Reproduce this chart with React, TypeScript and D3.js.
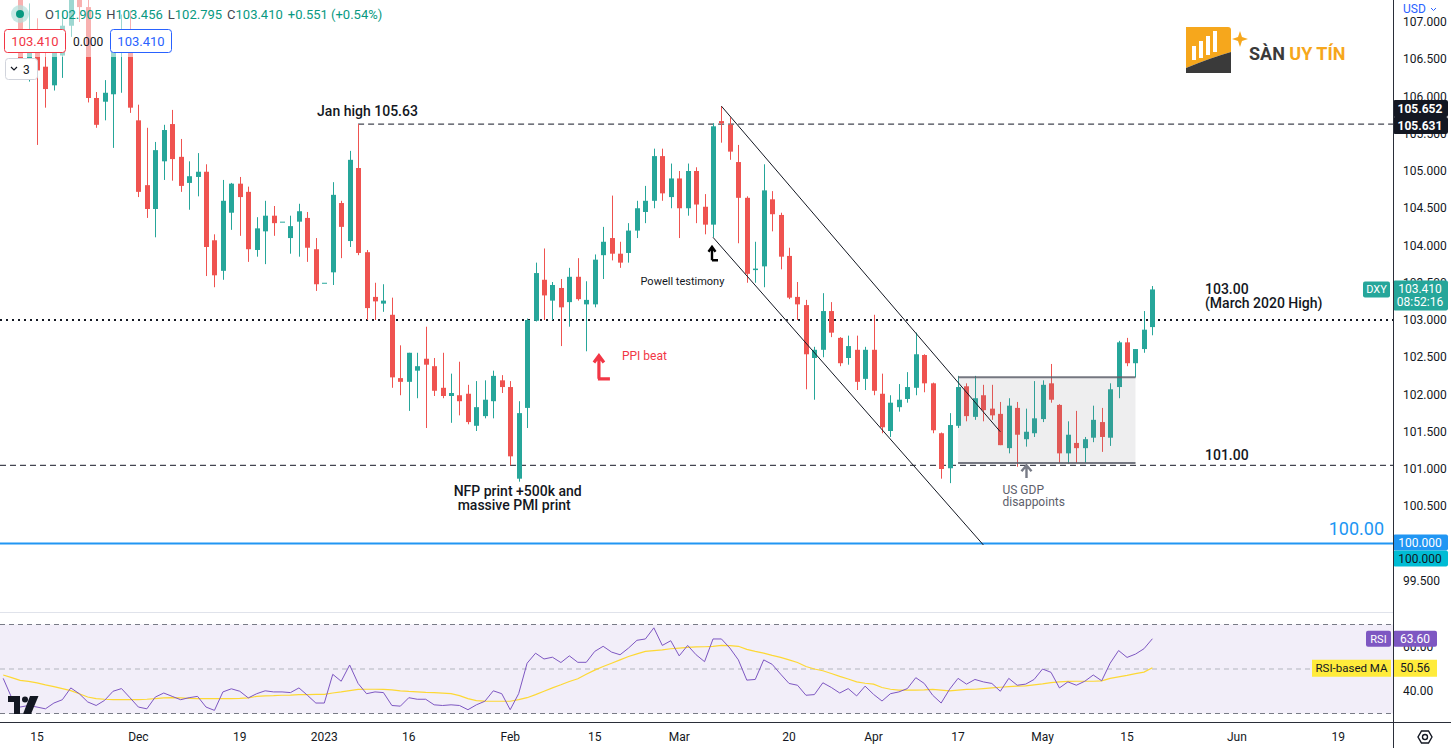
import React, { useEffect } from "react";
import * as d3 from "d3";

// ---- DATA (daily DXY, Nov 9 2022 .. May 18 2023, weekdays) ----
const opens = [109.6, 110.4, 108.2, 106.45, 106.9, 106.4, 106.15, 106.55, 106.95, 107.75,
  107.2, 105.98, 105.93, 106.03, 106.6, 106.85, 105.68, 104.81, 104.49, 105.13,
  105.63, 105.19, 104.84, 104.92, 104.99, 104.07, 103.66, 104.44, 104.83, 104.72,
  103.94, 104.19, 104.40, 104.32, 104.10, 104.32, 104.37, 103.95, 103.50, 103.64,
  104.57, 104.06, 105.04, 103.91, 103.31, 103.22, 103.07, 102.22, 102.17, 102.32,
  102.48, 102.38, 102.09, 101.98, 101.99, 102.01, 101.58, 101.71, 101.91, 102.19,
  102.10, 100.87, 101.82, 102.99, 103.54, 103.26, 103.43, 103.24, 103.58, 103.21,
  103.21, 103.87, 104.10, 103.89, 103.90, 104.20, 104.45, 104.60, 105.20, 104.65,
  104.90, 104.50, 105.00, 104.52, 104.28, 105.67, 105.62, 105.12, 104.64, 103.67,
  103.72, 104.62, 104.41, 103.86, 103.31, 103.20, 102.49, 102.60, 103.12, 102.76,
  102.49, 102.60, 102.21, 102.60, 102.01, 101.51, 101.83, 101.94, 102.09, 102.53,
  102.15, 101.48, 101.01, 101.58, 102.11, 101.70, 101.99, 101.81, 101.74, 101.28,
  101.82, 101.40, 101.48, 101.67, 102.15, 101.86, 101.21, 101.35, 101.28, 101.42,
  101.63, 101.42, 102.10, 102.70, 102.42, 102.61, 102.905];

const highs = [110.5, 110.6, 108.3, 107.25, 107.05, 106.6, 106.8, 107.15, 107.95, 107.85,
  107.35, 106.06, 106.22, 106.85, 107.1, 107.15, 105.89, 105.58, 105.39, 105.62,
  105.82, 105.43, 105.13, 105.24, 105.09, 104.15, 104.88, 104.84, 104.92, 104.79,
  104.38, 104.60, 104.53, 104.32, 104.40, 104.56, 104.45, 104.10, 103.50, 104.85,
  104.60, 105.27, 105.63, 103.94, 103.50, 103.48, 103.30, 102.66, 102.56, 102.56,
  102.91, 102.49, 102.56, 102.28, 102.44, 102.13, 102.18, 102.19, 102.32, 102.26,
  102.18, 101.91, 103.02, 103.77, 103.96, 103.51, 103.55, 103.70, 103.83, 103.52,
  103.88, 104.25, 104.67, 104.05, 104.30, 104.60, 104.80, 105.30, 105.30, 105.10,
  105.00, 105.10, 105.05, 104.69, 105.64, 105.87, 105.72, 105.35, 104.66, 104.05,
  105.09, 104.73, 104.44, 103.97, 103.51, 103.27, 102.64, 103.36, 103.24, 102.77,
  102.79, 102.79, 102.64, 103.07, 102.28, 101.99, 102.14, 102.30, 102.83, 102.54,
  102.16, 101.49, 101.75, 102.25, 102.15, 102.25, 102.13, 102.13, 101.90, 101.95,
  101.90, 101.81, 102.18, 102.19, 102.41, 101.87, 101.64, 101.78, 101.43, 101.85,
  101.82, 102.15, 102.72, 102.76, 102.61, 103.12, 103.456];

const lows = [109.4, 107.9, 106.3, 106.2, 105.35, 105.85, 106.08, 106.25, 106.8, 107.0,
  105.92, 105.58, 105.68, 105.31, 106.05, 105.78, 104.65, 104.37, 104.11, 104.88,
  104.87, 104.72, 104.48, 104.66, 103.59, 103.44, 103.54, 104.21, 104.13, 103.78,
  103.85, 103.75, 104.13, 104.32, 103.89, 103.85, 103.78, 103.39, 103.50, 103.47,
  103.83, 103.98, 103.87, 103.00, 103.00, 103.11, 102.09, 101.99, 101.78, 101.95,
  101.55, 101.98, 101.95, 101.62, 101.72, 101.60, 101.51, 101.68, 101.68, 102.02,
  101.05, 100.83, 101.55, 102.98, 103.00, 103.00, 102.65, 102.91, 103.26, 102.58,
  103.17, 103.55, 103.80, 103.70, 103.77, 104.10, 104.30, 104.50, 104.60, 104.50,
  104.10, 104.40, 104.30, 104.15, 104.11, 105.38, 105.15, 104.03, 103.50, 103.50,
  103.44, 104.19, 103.68, 103.28, 103.00, 102.07, 101.93, 102.50, 102.77, 102.38,
  102.40, 102.06, 102.06, 101.99, 101.48, 101.43, 101.77, 101.89, 101.99, 102.03,
  101.48, 100.87, 100.81, 101.55, 101.64, 101.66, 101.64, 101.66, 101.32, 101.21,
  101.03, 101.30, 101.43, 101.63, 101.89, 101.08, 101.07, 101.08, 101.08, 101.36,
  101.23, 101.31, 101.95, 102.38, 102.23, 102.56, 102.795];

const closes = [110.4, 108.1, 106.45, 106.85, 106.35, 106.1, 106.6, 106.95, 107.75, 107.2,
  105.98, 105.62, 106.05, 106.65, 106.85, 105.85, 104.72, 104.49, 105.28, 105.55,
  105.16, 104.80, 104.93, 104.99, 103.98, 103.60, 104.60, 104.83, 104.65, 103.95,
  104.23, 104.40, 104.30, 104.32, 104.26, 104.46, 103.97, 103.48, 103.50, 104.68,
  104.25, 105.15, 103.90, 103.16, 103.25, 103.26, 102.23, 102.17, 102.56, 102.38,
  102.40, 102.05, 101.98, 102.02, 101.91, 101.63, 101.83, 101.93, 102.25, 102.10,
  101.17, 101.75, 103.00, 103.63, 103.33, 103.47, 103.17, 103.58, 103.28, 103.27,
  103.81, 104.05, 103.89, 103.77, 104.20, 104.50, 104.60, 105.20, 104.70, 104.90,
  104.50, 105.00, 104.55, 104.28, 105.60, 105.64, 105.26, 104.64, 103.62, 103.69,
  104.74, 104.42, 103.85, 103.30, 103.21, 102.54, 102.60, 103.12, 102.83, 102.42,
  102.65, 102.17, 102.60, 102.05, 101.56, 101.89, 101.93, 102.10, 102.54, 102.15,
  101.52, 101.00, 101.59, 102.10, 101.71, 101.95, 101.79, 101.72, 101.32, 101.85,
  101.46, 101.50, 101.68, 102.13, 101.93, 101.21, 101.46, 101.28, 101.40, 101.66,
  101.43, 102.07, 102.70, 102.42, 102.61, 102.87, 103.41];

const rsiValues = [45.8, 37.1, 32.9, 33.6, 32.9, 32.1, 34.7, 36.2, 41.5, 38.9,
  35.2, 33.6, 35.9, 40.0, 41.2, 37.1, 32.9, 32.1, 37.4, 39.2,
  37.7, 36.2, 37.1, 37.7, 32.9, 31.4, 39.7, 41.1, 40.0, 37.0,
  38.9, 40.2, 39.7, 39.7, 39.4, 41.5, 38.2, 34.7, 34.7, 47.6,
  44.5, 51.8, 43.5, 38.9, 39.7, 39.4, 33.6, 33.3, 37.1, 36.4,
  36.4, 33.9, 33.6, 33.9, 33.6, 31.7, 33.9, 35.5, 40.2, 38.9,
  31.7, 38.9, 52.6, 57.1, 54.5, 55.3, 52.9, 55.9, 53.0, 53.0,
  57.9, 60.2, 57.6, 56.4, 59.4, 62.9, 63.5, 68.5, 60.6, 62.7,
  55.9, 60.6, 56.4, 53.3, 63.5, 63.5, 59.4, 54.1, 45.0, 45.3,
  54.1, 52.1, 47.7, 43.5, 42.7, 38.2, 38.5, 43.8, 41.7, 39.2,
  41.2, 37.9, 42.3, 38.6, 35.6, 38.9, 39.7, 41.2, 46.1, 43.5,
  38.2, 34.7, 40.9, 45.8, 43.2, 45.3, 44.2, 43.5, 40.0, 45.8,
  42.7, 43.2, 45.3, 50.0, 48.5, 41.5, 44.2, 42.7, 44.5, 47.3,
  44.7, 52.6, 58.3, 55.2, 56.7, 59.1, 63.6];

const rsiMA = [47.3, 46.1, 44.9, 44.4, 43.8, 42.9, 42.1, 41.2, 40.3, 38.9,
  37.4, 36.7, 36.4, 36.2, 36.2, 36.2, 36.2, 36.4, 36.7, 37.0,
  37.1, 37.0, 36.8, 36.7, 36.7, 36.7, 36.7, 36.7, 36.8, 37.0,
  37.7, 37.9, 38.0, 38.2, 38.3, 38.5, 38.5, 38.6, 38.6, 39.2,
  39.7, 40.3, 40.8, 40.9, 40.9, 40.8, 40.6, 40.2, 39.9, 39.7,
  39.5, 39.4, 39.2, 38.9, 38.0, 36.7, 35.8, 35.6, 35.5, 35.5,
  35.5, 36.2, 37.1, 38.5, 40.0, 41.5, 42.9, 44.4, 45.6, 47.6,
  49.5, 51.1, 52.6, 54.1, 55.6, 56.8, 57.9, 58.3, 58.6, 59.1,
  59.4, 59.7, 59.9, 60.0, 60.2, 60.6, 60.5, 60.2, 58.8, 57.9,
  57.1, 56.1, 55.2, 54.1, 52.9, 51.1, 50.0, 49.2, 48.0, 46.7,
  45.5, 44.2, 43.6, 43.2, 41.7, 40.9, 40.5, 40.5, 40.5, 40.6,
  40.8, 40.5, 40.2, 40.5, 40.8, 40.9, 41.2, 41.5, 41.8, 42.1,
  42.3, 42.4, 42.9, 43.3, 43.9, 44.2, 44.4, 44.5, 44.5, 44.5,
  44.7, 45.8, 46.5, 47.1, 47.9, 48.6, 50.56];

const tickLabels = ["15", "Dec", "19", "2023", "16", "Feb", "15", "Mar", "20", "Apr", "17", "May", "15", "Jun", "19"];
const tickDates = ["2022-11-15", "2022-12-01", "2022-12-19", "2023-01-02", "2023-01-16", "2023-02-01", "2023-02-15",
  "2023-03-01", "2023-03-20", "2023-04-03", "2023-04-17", "2023-05-01", "2023-05-15", "2023-06-01", "2023-06-19"];

// axis tick values that are visible (100.000 is fully covered by the line labels)
const priceTicks = [107, 106.5, 106, 105.5, 105, 104.5, 104, 103.5, 103, 102.5, 102, 101.5, 101, 100.5, 99.5];
const rsiTicks = [60, 40];

const janHigh = 105.63;
const level103 = 103.0;
const level101 = 101.05;
const level100 = 100.0;

const UP = "#26a69a";
const DOWN = "#ef5350";
const TXT = "#131722";
const FONT = "Roboto, 'Liberation Sans', Arial, sans-serif";
const AX = 1393;

export default function App() {
  useEffect(() => {
    document.body.style.margin = "0";
  }, []);

  const parse = d3.timeParse("%Y-%m-%d");
  const days = d3.timeDay
    .range(new Date(2022, 10, 9), new Date(2023, 6, 1))
    .filter((d) => d.getDay() !== 0 && d.getDay() !== 6);
  const idxOf = (s) => {
    const t = +parse(s);
    return days.findIndex((d) => +d === t);
  };

  const last = closes.length - 1;
  const x = d3.scaleLinear().domain([0, last]).range([3.2, 3.2 + 8.45 * last]);
  const y = d3.scaleLinear().domain([99.5, 107]).range([580.75, 22]);
  const ry = d3.scaleLinear().domain([30, 70]).range([713.5, 624.5]);

  const rsiLine = d3.line().x((_, i) => x(i)).y((v) => ry(v));
  const lineHi = d3.line().x((d) => x(d[0])).y((d) => y(d[1]));

  const upperChan = [[85, highs[85]], [118, 101.5]];
  const lowerChan = [[84, lows[84]], [116, 99.98]];
  const boxL = 113, boxR = 134, boxTop = 102.23, boxBot = 101.08;

  const pw = x(84);
  const ppiX = x(70.5);
  const gdpX = x(121.1);

  return (
    <div style={{ position: "absolute", left: 0, top: 0 }}>
      <svg width={1451} height={748} style={{ display: "block", background: "#fff" }} fontFamily={FONT}>
        <defs>
          <clipPath id="pane"><rect x={0} y={0} width={AX} height={612} /></clipPath>
          <clipPath id="rsiPane"><rect x={0} y={613} width={AX} height={109} /></clipPath>
        </defs>

        <g clipPath="url(#pane)">
          <line x1={x(42)} x2={AX} y1={y(janHigh)} y2={y(janHigh)} stroke="#434651" strokeWidth={1.3} strokeDasharray="6 4" />
          <line x1={0} x2={AX} y1={y(level101)} y2={y(level101)} stroke="#434651" strokeWidth={1.3} strokeDasharray="6 4" />
          <line x1={0} x2={AX} y1={y(level103)} y2={y(level103)} stroke={TXT} strokeWidth={2} strokeDasharray="2 4" />
          <line x1={0} x2={AX} y1={y(level100)} y2={y(level100)} stroke="#2196f3" strokeWidth={2} />

          {opens.map((o, i) => {
            const c = closes[i];
            const col = c >= o ? UP : DOWN;
            const cx = Math.round(x(i));
            const yt = y(Math.max(o, c));
            const yb = y(Math.min(o, c));
            return (
              <g key={i}>
                <line x1={cx + 0.5} x2={cx + 0.5} y1={y(highs[i])} y2={y(lows[i])} stroke={col} strokeWidth={1} />
                <rect x={cx - 2} y={yt} width={5} height={Math.max(1, yb - yt)} fill={col} />
              </g>
            );
          })}

          <rect x={x(boxL)} y={y(boxTop)} width={x(boxR) - x(boxL)} height={y(boxBot) - y(boxTop)} fill="#787b86" fillOpacity={0.13} />
          <line x1={x(boxL)} x2={x(boxR)} y1={y(boxTop)} y2={y(boxTop)} stroke="#5d606b" strokeWidth={2} strokeOpacity={0.85} />
          <line x1={x(boxL)} x2={x(boxR)} y1={y(boxBot)} y2={y(boxBot)} stroke="#5d606b" strokeWidth={2} strokeOpacity={0.85} />

          <path d={lineHi(upperChan)} stroke={TXT} strokeWidth={1} fill="none" />
          <path d={lineHi(lowerChan)} stroke={TXT} strokeWidth={1} fill="none" />

          <rect x={0} y={0} width={400} height={57} fill="#fff" fillOpacity={0.55} />
        </g>

        <g fill={TXT}>
          <text x={x(42) - 41} y={y(janHigh) - 8} fontSize={14} fontWeight={500}>Jan high 105.63</text>
          <text x={x(74) + 12} y={y(lows[84]) + 48} fontSize={11}>Powell testimony</text>
          <text x={x(61) - 65} y={y(lows[61]) + 14} fontSize={14} fontWeight={500}>NFP print +500k and</text>
          <text x={x(61) - 61} y={y(lows[61]) + 28} fontSize={14} fontWeight={500}>massive PMI print</text>
          <text x={1205} y={y(level103) - 26} fontSize={14} fontWeight={500}>103.00</text>
          <text x={1205} y={y(level103) - 12} fontSize={14} fontWeight={500}>(March 2020 High)</text>
          <text x={1205} y={y(level101) - 5} fontSize={14} fontWeight={500}>101.00</text>
          <text x={1384} y={y(level100) - 9} fontSize={18} fill="#2196f3" textAnchor="end">100.00</text>
          <text x={ppiX + 23} y={y(102.52) + 4} fontSize={12} fill="#f23645">PPI beat</text>
          <text x={gdpX - 24} y={y(101.05) + 29} fontSize={12} fill="#5d606b">US GDP</text>
          <text x={gdpX - 24} y={y(101.05) + 41} fontSize={12} fill="#5d606b">disappoints</text>
        </g>
        <path d={`M${pw - 1},${y(lows[84]) + 23} V${y(lows[84]) + 10} M${pw - 4.5},${y(lows[84]) + 14.5} L${pw - 1},${y(lows[84]) + 9.5} L${pw + 2.5},${y(lows[84]) + 14.5} M${pw - 1},${y(lows[84]) + 23} H${pw + 5}`}
          stroke="#000" strokeWidth={2.4} fill="none" />
        <path d={`M${ppiX},${y(102.21)} V${y(102.5)} M${ppiX - 5},${y(102.43)} L${ppiX},${y(102.52)} L${ppiX + 5},${y(102.43)} M${ppiX - 1},${y(102.21)} H${ppiX + 11}`}
          stroke="#f23645" strokeWidth={3.2} fill="none" />
        <path d={`M${gdpX},${y(100.88)} V${y(101.04)} M${gdpX - 5},${y(100.97)} L${gdpX},${y(101.05)} L${gdpX + 5},${y(100.97)}`}
          stroke="#787b86" strokeWidth={2.4} fill="none" />

        <line x1={0} x2={1451} y1={612.5} y2={612.5} stroke="#e0e3eb" strokeWidth={1} />
        <rect x={0} y={ry(70)} width={AX} height={ry(30) - ry(70)} fill="#7e57c2" fillOpacity={0.1} />
        <line x1={0} x2={AX} y1={ry(70)} y2={ry(70)} stroke="#787b86" strokeDasharray="5 4" />
        <line x1={0} x2={AX} y1={ry(30)} y2={ry(30)} stroke="#787b86" strokeDasharray="5 4" />
        <line x1={0} x2={AX} y1={ry(50)} y2={ry(50)} stroke="#b2b5be" strokeDasharray="5 4" />
        <g clipPath="url(#rsiPane)">
          <path d={rsiLine(rsiMA)} stroke="#fdd835" strokeWidth={1.2} fill="none" />
          <path d={rsiLine(rsiValues)} stroke="#7e57c2" strokeWidth={1} fill="none" />
        </g>

        <g fill={TXT}>
          <path d="M8,696 H20 V714 H14 V702 H8 Z" />
          <circle cx={25} cy={699.5} r={3} />
          <path d="M30,696 H38.5 L31,714 H23 Z" />
        </g>

        <rect x={AX} y={0} width={1451 - AX} height={748} fill="#fff" />
        {priceTicks.map((p) => (
          <text key={p} x={1403} y={y(p) + 4} fontSize={12} fill={TXT}>{p.toFixed(3)}</text>
        ))}
        <rect x={AX + 1} y={0} width={57} height={17} fill="#fff" />
        <text x={1403} y={13} fontSize={12} fill="#2962ff">USD</text>
        <path d="M1431,8 L1433.5,10.5 L1436,8" stroke="#2962ff" fill="none" strokeWidth={1} />

        {rsiTicks.map((v) => (
          <text key={v} x={1403} y={ry(v) + 4} fontSize={12} fill={TXT}>{v.toFixed(2)}</text>
        ))}

        <rect x={AX} y={100} width={55} height={17} fill={TXT} rx={2} />
        <text x={1420} y={113} fontSize={12} fontWeight={700} fill="#fff" textAnchor="middle">105.652</text>
        <rect x={AX} y={117} width={55} height={17} fill={TXT} rx={2} />
        <text x={1420} y={130} fontSize={12} fontWeight={700} fill="#fff" textAnchor="middle">105.631</text>

        <rect x={1363} y={y(closes[last]) - 8} width={27} height={16} fill="#26a69a" rx={2} />
        <text x={1376.5} y={y(closes[last]) + 4} fontSize={11} fill="#fff" textAnchor="middle">DXY</text>
        <rect x={AX} y={y(closes[last]) - 9} width={55} height={30} fill="#26a69a" rx={2} />
        <text x={1420} y={y(closes[last]) + 4} fontSize={12} fill="#fff" textAnchor="middle">103.410</text>
        <text x={1420} y={y(closes[last]) + 17} fontSize={12} fill="#fff" textAnchor="middle">08:52:16</text>

        <rect x={AX} y={y(level100) - 9} width={55} height={16} fill="#2196f3" rx={2} />
        <text x={1420} y={y(level100) + 3.5} fontSize={12} fill="#fff" textAnchor="middle">100.000</text>
        <rect x={AX} y={y(level100) + 7} width={55} height={16} fill="#00bcd4" rx={2} />
        <text x={1420} y={y(level100) + 19.5} fontSize={12} fill={TXT} textAnchor="middle">100.000</text>

        <rect x={1366} y={ry(63.6) - 8} width={25} height={16} fill="#7e57c2" rx={2} />
        <text x={1378.5} y={ry(63.6) + 4} fontSize={11} fill="#fff" textAnchor="middle">RSI</text>
        <rect x={AX} y={ry(63.6) - 8} width={44} height={16} fill="#7e57c2" rx={2} />
        <text x={1415} y={ry(63.6) + 4.5} fontSize={12} fill="#fff" textAnchor="middle">63.60</text>

        <rect x={1312} y={ry(50.56) - 8} width={79} height={17} fill="#ffeb3b" />
        <text x={1351.5} y={ry(50.56) + 4.5} fontSize={11.5} fill={TXT} textAnchor="middle">RSI-based MA</text>
        <rect x={AX} y={ry(50.56) - 8} width={44} height={17} fill="#ffeb3b" />
        <text x={1415} y={ry(50.56) + 4.5} fontSize={12} fill={TXT} textAnchor="middle">50.56</text>

        <line x1={AX + 0.5} x2={AX + 0.5} y1={0} y2={748} stroke="#2a2e39" strokeWidth={1} />

        <line x1={0} x2={1451} y1={722.5} y2={722.5} stroke="#2a2e39" strokeWidth={1} />
        {tickLabels.map((t, k) => (
          <text key={k} x={x(idxOf(tickDates[k]))} y={741} fontSize={12} fill={TXT} textAnchor="middle">{t}</text>
        ))}
        <g transform="translate(1425,737)" fill="none" stroke={TXT} strokeWidth={1.4}>
          <path d={d3.range(6).map((k) => {
            const a = (Math.PI / 3) * k;
            return `${k === 0 ? "M" : "L"}${(7 * Math.cos(a)).toFixed(2)},${(7 * Math.sin(a)).toFixed(2)}`;
          }).join(" ") + " Z"} />
          <circle r={2.5} />
        </g>

        <circle cx={20} cy={14} r={9} fill="#b2dfdb" fillOpacity={0.7} />
        <circle cx={20} cy={14} r={4} fill="#089981" />
        <text x={45} y={18.5} fontSize={13}>
          <tspan fill="#434651">O</tspan><tspan fill="#089981">102.905</tspan>
          <tspan dx={5} fill="#434651">H</tspan><tspan fill="#089981">103.456</tspan>
          <tspan dx={5} fill="#434651">L</tspan><tspan fill="#089981">102.795</tspan>
          <tspan dx={5} fill="#434651">C</tspan><tspan fill="#089981">103.410</tspan>
          <tspan dx={5} fill="#089981">+0.551 (+0.54%)</tspan>
        </text>
        <rect x={4.5} y={29.5} width={61} height={23} rx={3} fill="#fff" stroke="#f23645" />
        <text x={35} y={45.5} fontSize={13} fill="#f23645" textAnchor="middle">103.410</text>
        <text x={73} y={45.5} fontSize={12} fill={TXT}>0.000</text>
        <rect x={110.5} y={29.5} width={61} height={23} rx={3} fill="#fff" stroke="#2962ff" />
        <text x={141} y={45.5} fontSize={13} fill="#2962ff" textAnchor="middle">103.410</text>
        <rect x={5.5} y={58.5} width={32} height={21} rx={3} fill="#fff" stroke="#d1d4dc" />
        <path d="M11,67 L14,70 L17,67" stroke={TXT} fill="none" strokeWidth={1.2} />
        <text x={23} y={74} fontSize={12} fill={TXT}>3</text>

        <g>
          <path d="M1186,27 H1228 Q1231,27 1231,30 V52 Q1210,58 1186,68 Z" fill="#f6a71c" />
          <path d="M1186,68 Q1210,58 1231,52 V73 H1186 Z" fill="#3a3a3a" />
          <rect x={1192} y={46} width={4} height={14} fill="#fff" />
          <rect x={1199} y={41} width={4} height={17} fill="#fff" />
          <rect x={1206} y={36} width={4} height={19} fill="#fff" />
          <rect x={1213} y={31} width={4} height={21} fill="#fff" />
          <path d="M1240,31 L1242,37 L1248,39 L1242,41 L1240,47 L1238,41 L1232,39 L1238,37 Z" fill="#f6a71c" />
          <text x={1249} y={60} fontSize={18} fontWeight={700}>
            <tspan fill="#3a3a3a">SÀN </tspan><tspan fill="#f6a71c">UY TÍN</tspan>
          </text>
        </g>
      </svg>
    </div>
  );
}
